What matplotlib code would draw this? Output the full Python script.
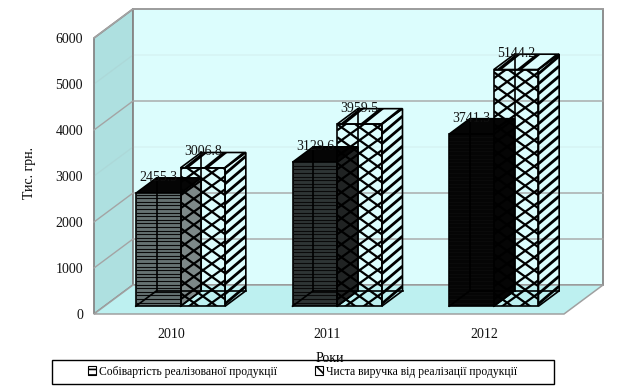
import numpy as np
import matplotlib
matplotlib.use("Agg")
import matplotlib.pyplot as plt
from matplotlib.patches import Polygon, Patch, Rectangle

plt.rcParams["font.family"] = ["Liberation Serif", "DejaVu Serif"]
plt.rcParams["hatch.linewidth"] = 1.2

years = ["2010", "2011", "2012"]
cost = [2455.3, 3129.6, 3741.3]
revenue = [3006.8, 3959.5, 5144.2]
cost_name = "Собівартість реалізованої продукції"
revenue_name = "Чиста виручка від реалізації продукції"
yticks = [0, 1000, 2000, 3000, 4000, 5000, 6000]
grid_alpha = [1, 1, 0.12, 1, 0.12, 1]
cost_fill = ["#667272", "#2e3535", "#050505"]
cost_side = ["#7d8888", "#202323", "#050505"]

W, H = 619, 386
fig = plt.figure(figsize=(W / 100, H / 100), dpi=100)
ax = fig.add_axes([94 / W, 1 - 314 / H, 470 / W, 276 / H])
ax.set_xlim(0, 3)
ax.set_ylim(0, 6000)

# one pixel in data units
PX = 3 / 470
PY = 6000 / 276

# depth of the fake 3d box, in data units
DX = 39 * PX
DY = 29 * PY


def proj(x, y, d):
    return (x + d * DX, y + d * DY)


def poly(pts, zorder=2, **kw):
    p = Polygon(pts, closed=True, clip_on=False, zorder=zorder, **kw)
    ax.add_patch(p)
    return p


def stripes(patch, slope, pitch, lw, zorder, color="k"):
    # pattern lines clipped to a face, slope and pitch given in pixels
    xy = patch.get_xy()
    x0, x1 = xy[:, 0].min(), xy[:, 0].max()
    y0, y1 = xy[:, 1].min(), xy[:, 1].max()
    run = (x1 - x0) / PX * slope * PY
    start = min(y0, y0 - run)
    stop = max(y1, y1 - run)
    for y in np.arange(start, stop, pitch * PY):
        ln, = ax.plot([x0, x1], [y, y + run], color=color, lw=lw, zorder=zorder,
                      solid_capstyle="butt")
        ln.set_clip_box(None)
        ln.set_clip_path(patch)


# walls and floor
poly([proj(0, 0, 0), proj(0, 6000, 0), proj(0, 6000, 1), proj(0, 0, 1)],
     facecolor="#aee0e0", edgecolor="#868686", linewidth=1.3, zorder=1)
poly([proj(0, 0, 1), proj(0, 6000, 1), proj(3, 6000, 1), proj(3, 0, 1)],
     facecolor="#dcfdfd", edgecolor="#868686", linewidth=1.3, zorder=1)
poly([proj(0, 0, 0), proj(3, 0, 0), proj(3, 0, 1), proj(0, 0, 1)],
     facecolor="#bdf0f0", edgecolor="#a0a0a0", linewidth=1.1, zorder=1)

for v, a in zip(yticks[1:], grid_alpha):
    a0, a1, a2 = proj(0, v, 0), proj(0, v, 1), proj(3, v, 1)
    ax.plot([a0[0], a1[0], a2[0]], [a0[1], a1[1], a2[1]], color="#a4a4a4",
            linewidth=1, alpha=a, clip_on=False, zorder=1.5)


def bar3d(x0, x1, top, face, side, z, fill_top):
    d0, d1 = 0.27, 0.8
    lw = 1.2
    # hidden edges show through
    hx, hy = proj(x0, 0, d1)
    tx, ty = proj(x0, top, d1)
    bx, by = proj(x0, 0, d0)
    rx, ry = proj(x1, 0, d1)
    ax.plot([hx, tx], [hy, ty], color="k", lw=lw, clip_on=False, zorder=z + 0.4)
    ax.plot([bx, hx], [by, hy], color="k", lw=lw, clip_on=False, zorder=z + 0.4)
    ax.plot([hx, rx], [hy, ry], color="k", lw=lw, clip_on=False, zorder=z + 0.4)
    s = poly([proj(x1, 0, d0), proj(x1, 0, d1), proj(x1, top, d1), proj(x1, top, d0)],
             facecolor=side, edgecolor="k", linewidth=lw, zorder=z)
    t = poly([proj(x0, top, d0), proj(x1, top, d0), proj(x1, top, d1), proj(x0, top, d1)],
             facecolor=fill_top, edgecolor="k", linewidth=lw, zorder=z + 0.1)
    f = poly([proj(x0, 0, d0), proj(x1, 0, d0), proj(x1, top, d0), proj(x0, top, d0)],
             facecolor=face, edgecolor="k", linewidth=lw, zorder=z + 0.2)
    return s, t, f


width = 0.285
for i in range(3):
    left = i + 0.2
    side_c, top_c, front_c = bar3d(left, left + width, cost[i], cost_fill[i], cost_side[i], 3, "#050505")
    stripes(front_c, 0, 3.6, 0.8, 3.3, color="#0a0a0a")

    side_r, top_r, front_r = bar3d(left + width, left + 2 * width, revenue[i], "none", "none", 4, "none")
    stripes(front_r, 0.72, 13, 1.6, 4.3)
    stripes(front_r, -0.72, 13, 1.6, 4.3)
    stripes(side_r, 0.85, 10, 2.0, 4.35)
    stripes(top_r, 0.8, 16, 2.4, 4.3)

    for xc, val in ((left + width / 2, cost[i]), (left + 1.5 * width, revenue[i])):
        px, py = proj(xc, val, 0.27)
        ax.annotate(f"{val:.1f}", (px, py), xytext=(0, 11.5), textcoords="offset points",
                    ha="center", va="center", fontsize=10, color="#111111",
                    annotation_clip=False, zorder=6)

for sp in ax.spines.values():
    sp.set_visible(False)
ax.patch.set_visible(False)
ax.set_xticks([0.49, 1.49, 2.49], years)
ax.set_yticks(yticks)
ax.tick_params(length=0, labelsize=10, colors="#111111")
ax.tick_params(axis="y", pad=8)
ax.tick_params(axis="x", pad=10)

fig.add_artist(Rectangle((52 / W, 1 - 384 / H), 502 / W, 24 / H, transform=fig.transFigure,
                         facecolor="white", edgecolor="k", linewidth=1))
fig.text(329.5 / W, 1 - 358 / H, "Роки", ha="center", va="center", fontsize=10, zorder=10)
fig.text(29 / W, 1 - 173 / H, "Тис. грн.", rotation=90, ha="center", va="center", fontsize=10)

handles = [Patch(facecolor="white", edgecolor="k", hatch="---", linewidth=0.8, label=cost_name),
           Patch(facecolor="white", edgecolor="k", hatch="\\\\", linewidth=0.8, label=revenue_name)]
leg = fig.legend(handles=handles, ncol=2, loc="center",
                 bbox_to_anchor=(302.5 / W, 1 - 371.5 / H),
                 fontsize=8.4, frameon=False,
                 borderaxespad=0, handlelength=0.7, handleheight=0.7, handletextpad=0.3,
                 columnspacing=3.2, borderpad=0)
leg.set_zorder(11)

fig.savefig("out.png", dpi=100)
plt.close("all")
